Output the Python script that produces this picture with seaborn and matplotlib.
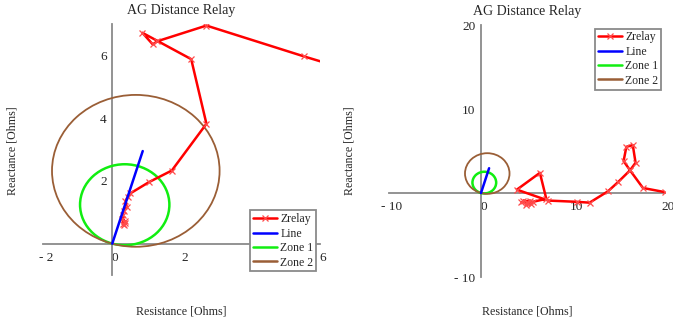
import numpy as np
import pandas as pd
import seaborn as sns
import matplotlib
matplotlib.use("Agg")
import matplotlib.pyplot as plt
from matplotlib.patches import Circle
from matplotlib.lines import Line2D
from matplotlib.ticker import FuncFormatter, FixedLocator
import matplotlib.transforms as mtransforms

sns.set_style("white")
plt.rcParams["font.family"] = ["Liberation Serif", "DejaVu Serif"]

# Apparent impedance seen by the relay (close-in fault case)
zrelay_r_near = [0.30, 0.36, 0.28, 0.38, 0.33, 0.30, 0.34, 0.42, 0.38, 0.45, 0.52,
                 1.06, 1.72, 2.72, 2.28, 0.87, 1.17, 1.30, 2.72, 5.53, 6.40]
zrelay_x_near = [0.62, 0.72, 0.78, 0.66, 0.58, 0.92, 1.05, 1.16, 1.35, 1.50, 1.60,
                 1.96, 2.33, 3.82, 5.88, 6.72, 6.35, 6.45, 6.95, 5.97, 5.68]

# Apparent impedance seen by the relay (remote fault case)
zrelay_r_far = [5.0, 4.6, 5.4, 4.9, 5.3, 4.4, 5.6, 5.0,
                7.1, 6.4, 3.9, 7.3, 10.4, 11.8, 13.8, 14.9, 16.2, 15.5, 15.8,
                16.5, 16.8, 16.2, 17.6, 20.0, 22.0]
zrelay_x_far = [-1.1, -0.9, -1.3, -1.4, -0.9, -1.1, -1.1, -1.2,
                -0.7, 2.4, 0.4, -0.9, -1.05, -1.15, 0.2, 1.3, 2.7, 3.8, 5.5,
                5.7, 3.6, 2.7, 0.6, 0.1, -0.2]

# Protected line impedance
line_r = [0.0, 0.88]
line_x = [0.0, 2.95]

# Mho characteristics: centre (R, X) and radius
zone1_center = (0.36, 1.24)
zone1_radius = 1.29
zone2_center = (0.68, 2.32)
zone2_radius = 2.42

titles = ["AG Distance Relay", "AG Distance Relay"]
xlabel = "Resistance [Ohms]"
ylabel = "Reactance [Ohms]"

RED = "#ff0000"
BLUE = "#0000ff"
GREEN = "#11ee11"
BROWN = "#9a5e36"
GRAY = "#8a8a8a"


def fmt(v, pos):
    if abs(v) < 1e-9:
        return "0"
    if v < 0:
        return f"- {abs(v):g}"
    return f"{v:g}"


def fmt_y(v, pos):
    if abs(v) < 1e-9:
        return ""
    return fmt(v, pos)


fig = plt.figure(figsize=(6.73, 3.25), dpi=100)
ax1 = fig.add_axes([43 / 673, 50 / 325, 277 / 673, 251 / 325])
ax2 = fig.add_axes([389 / 673, 48 / 325, 276 / 673, 252 / 325])

panels = [
    (ax1, titles[0], zrelay_r_near, zrelay_x_near, (-2, 6), (-1, 7), [-2, 0, 2, 4, 6], [2, 4, 6], "lower right"),
    (ax2, titles[1], zrelay_r_far, zrelay_x_far, (-10, 20), (-10, 20), [-10, 0, 10, 20], [-10, 10, 20], "upper right"),
]

for ax, title, zr, zx, xlim, ylim, xt, yt, loc in panels:
    df = pd.DataFrame({"R": zr, "X": zx})
    sns.lineplot(data=df, x="R", y="X", sort=False, estimator=None, ax=ax,
                 color=RED, lw=1.8, marker="x", markersize=5,
                 markeredgecolor="#ff4c4c", markeredgewidth=0.9, zorder=4)
    dl = pd.DataFrame({"R": line_r, "X": line_x})
    sns.lineplot(data=dl, x="R", y="X", sort=False, estimator=None, ax=ax,
                 color=BLUE, lw=1.8, zorder=5)
    ax.add_patch(Circle(zone1_center, zone1_radius, fill=False, ec=GREEN, lw=1.8, zorder=3))
    ax.add_patch(Circle(zone2_center, zone2_radius, fill=False, ec=BROWN, lw=1.3, zorder=3))

    ax.set_xlim(*xlim)
    ax.set_ylim(*ylim)
    for s in ("top", "right"):
        ax.spines[s].set_visible(False)
    for s in ("left", "bottom"):
        ax.spines[s].set_position(("data", 0))
        ax.spines[s].set_color(GRAY)
        ax.spines[s].set_linewidth(1.3)
    ax.xaxis.set_major_locator(FixedLocator(xt))
    ax.yaxis.set_major_locator(FixedLocator(yt))
    ax.xaxis.set_major_formatter(FuncFormatter(fmt))
    ax.yaxis.set_major_formatter(FuncFormatter(fmt_y))
    ax.tick_params(axis="both", direction="inout", length=4, width=1, color=GRAY,
                   labelsize=9.5)
    ax.tick_params(axis="x", pad=4)
    ax.tick_params(axis="y", pad=2)
    off = mtransforms.ScaledTranslation(3 / 100, 0, fig.dpi_scale_trans)
    for lab in ax.get_xticklabels():
        lab.set_transform(lab.get_transform() + off)

    ax.set_xlabel("")
    ax.set_ylabel("")
    ax.set_title(title, fontsize=10, pad=7)

    handles = [
        Line2D([], [], color=RED, lw=1.8, marker="x", markersize=5,
               markeredgecolor="#ff4c4c", markeredgewidth=0.9),
        Line2D([], [], color=BLUE, lw=1.8),
        Line2D([], [], color=GREEN, lw=1.8),
        Line2D([], [], color=BROWN, lw=1.8),
    ]
    leg = ax.legend(handles, ["Zrelay", "Line", "Zone 1", "Zone 2"], loc=loc,
                    fontsize=8.5, frameon=True, fancybox=False, framealpha=1,
                    edgecolor=GRAY, borderpad=0.25, labelspacing=0.2,
                    handlelength=2.0, handletextpad=0.3, borderaxespad=0.3)
    leg.get_frame().set_linewidth(1.3)
    leg.set_zorder(10)

# axis titles positioned in figure coordinates
fig.text(181.5 / 673, 1 - 312 / 325, xlabel, ha="center", va="center", fontsize=8.6)
fig.text(527 / 673, 1 - 312 / 325, xlabel, ha="center", va="center", fontsize=8.6)
fig.text(13 / 673, 1 - 151 / 325, ylabel, ha="center", va="center", rotation=90, fontsize=8.6)
fig.text(349 / 673, 1 - 151 / 325, ylabel, ha="center", va="center", rotation=90, fontsize=8.6)

fig.savefig("out.png", dpi=100, facecolor="white")
